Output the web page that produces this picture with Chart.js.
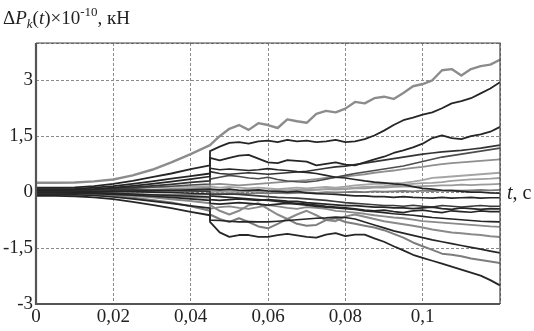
<!DOCTYPE html>
<html>
<head>
<meta charset="utf-8">
<script src="https://cdn.jsdelivr.net/npm/chart.js@4"></script>
<style>
  html, body { margin: 0; padding: 0; background: #fff; }
</style>
</head>
<body>
<canvas id="chart" width="534" height="331"></canvas>
<script>
// time axis: smooth part up to 0.045 s, then the jump (0.045 repeated) and the rest
var times = [0, 0.005, 0.01, 0.015, 0.02, 0.025, 0.03, 0.035, 0.04, 0.045,
  0.045, 0.0475, 0.05, 0.0525, 0.055, 0.0575, 0.06, 0.0625, 0.065, 0.0675,
  0.07, 0.0725, 0.075, 0.0775, 0.08, 0.0825, 0.085, 0.0875, 0.09, 0.0925,
  0.095, 0.0975, 0.1, 0.1025, 0.105, 0.1075, 0.11, 0.1125, 0.115, 0.1175, 0.12];

var xTickValues = [0, 0.02, 0.04, 0.06, 0.08, 0.1, 0.12];
var xTickLabels = ['0', '0,02', '0,04', '0,06', '0,08', '0,1', ''];
var yTickValues = [-3, -1.5, 0, 1.5, 3, 4];
var yTickLabels = ['-3', '-1,5', '0', '1,5', '3', ''];

// ΔPk(t) values, one array per curve (first 10 values before the jump)
var line01 = [0.25, 0.25, 0.26, 0.29, 0.34, 0.45, 0.6, 0.8, 1.02, 1.26,
  1.26, 1.5, 1.7, 1.8, 1.67, 1.85, 1.8, 1.72, 1.95, 1.9,
  1.86, 2.1, 2.18, 2.14, 2.24, 2.42, 2.38, 2.52, 2.56, 2.5,
  2.66, 2.84, 2.9, 3.0, 3.27, 3.3, 3.13, 3.3, 3.38, 3.42, 3.55];
var line02 = [0.12, 0.12, 0.13, 0.16, 0.22, 0.3, 0.4, 0.5, 0.62, 0.72,
  1.1, 1.22, 1.32, 1.34, 1.3, 1.36, 1.38, 1.34, 1.4, 1.36,
  1.38, 1.34, 1.36, 1.4, 1.34, 1.36, 1.42, 1.52, 1.65, 1.8,
  1.93, 2.0, 2.08, 2.14, 2.25, 2.38, 2.44, 2.52, 2.65, 2.78, 2.95];
var line03 = [0.08, 0.08, 0.09, 0.12, 0.16, 0.22, 0.29, 0.36, 0.43, 0.5,
  0.92, 0.85, 0.92, 0.98, 1.0, 0.9, 0.8, 0.78, 0.86, 0.84,
  0.82, 0.72, 0.76, 0.8, 0.74, 0.72, 0.8, 0.88, 0.95, 1.05,
  1.12, 1.2, 1.3, 1.45, 1.52, 1.45, 1.42, 1.5, 1.55, 1.62, 1.75];
var line04 = [0.05, 0.05, 0.06, 0.08, 0.12, 0.17, 0.22, 0.28, 0.35, 0.42,
  0.64, 0.6, 0.62, 0.6, 0.58, 0.6, 0.63, 0.6, 0.58, 0.55,
  0.53, 0.5, 0.45, 0.4, 0.38, 0.34, 0.3, 0.27, 0.25, 0.22,
  0.2, 0.15, 0.1, 0.08, 0.05, 0.04, 0.02, 0.0, 0.0, -0.02, -0.03];
var line05 = [0.04, 0.04, 0.05, 0.07, 0.1, 0.13, 0.17, 0.21, 0.26, 0.3,
  0.55, 0.5, 0.48, 0.5, 0.52, 0.5, 0.48, 0.5, 0.52, 0.54,
  0.56, 0.6, 0.64, 0.68, 0.7, 0.74, 0.78, 0.82, 0.86, 0.9,
  0.94, 0.98, 1.02, 1.05, 1.08, 1.1, 1.12, 1.15, 1.18, 1.22, 1.26];
var line06 = [0.02, 0.02, 0.03, 0.05, 0.07, 0.1, 0.13, 0.16, 0.19, 0.22,
  0.35, 0.4, 0.45, 0.42, 0.38, 0.36, 0.4, 0.34, 0.3, 0.28,
  0.27, 0.3, 0.35, 0.4, 0.45, 0.5, 0.54, 0.58, 0.62, 0.66,
  0.7, 0.76, 0.82, 0.88, 0.94, 0.98, 1.02, 1.06, 1.1, 1.14, 1.18];
var line07 = [0.0, 0.0, 0.01, 0.02, 0.04, 0.05, 0.07, 0.09, 0.1, 0.12,
  0.2, 0.22, 0.2, 0.18, 0.2, 0.22, 0.24, 0.26, 0.28, 0.3,
  0.32, 0.35, 0.38, 0.4, 0.42, 0.45, 0.48, 0.52, 0.55, 0.58,
  0.62, 0.65, 0.68, 0.72, 0.75, 0.78, 0.8, 0.82, 0.84, 0.86, 0.88];
var line08 = [0.06, 0.06, 0.07, 0.08, 0.1, 0.12, 0.13, 0.14, 0.15, 0.16,
  0.15, 0.12, 0.14, 0.12, 0.1, 0.12, 0.1, 0.08, 0.1, 0.12,
  0.1, 0.12, 0.14, 0.12, 0.15, 0.18, 0.2, 0.22, 0.22, 0.24,
  0.25, 0.28, 0.32, 0.38, 0.4, 0.42, 0.44, 0.46, 0.48, 0.5, 0.52];
var line09 = [-0.02, -0.02, -0.02, -0.01, 0.0, 0.01, 0.02, 0.03, 0.04, 0.05,
  0.05, 0.06, 0.05, 0.04, 0.06, 0.05, 0.04, 0.06, 0.05, 0.06,
  0.08, 0.07, 0.08, 0.1, 0.1, 0.12, 0.14, 0.15, 0.16, 0.18,
  0.2, 0.22, 0.24, 0.25, 0.27, 0.3, 0.32, 0.34, 0.35, 0.36, 0.38];
var line10 = [-0.1, -0.1, -0.11, -0.14, -0.19, -0.26, -0.34, -0.43, -0.53, -0.62,
  -0.8, -1.08, -1.2, -1.15, -1.15, -1.2, -1.2, -1.15, -1.12, -1.16,
  -1.2, -1.22, -1.14, -1.1, -1.18, -1.14, -1.14, -1.24, -1.33, -1.45,
  -1.56, -1.68, -1.76, -1.84, -1.92, -2.0, -2.08, -2.16, -2.24, -2.36, -2.5];
var line11 = [-0.06, -0.06, -0.07, -0.09, -0.13, -0.18, -0.24, -0.3, -0.37, -0.43,
  -0.75, -0.76, -0.78, -0.8, -0.79, -0.8, -0.8, -0.78, -0.76, -0.74,
  -0.72, -0.7, -0.69, -0.67, -0.68, -0.72, -0.8, -0.88, -0.96, -1.04,
  -1.1, -1.16, -1.22, -1.28, -1.33, -1.38, -1.43, -1.48, -1.53, -1.58, -1.63];
var line12 = [-0.05, -0.05, -0.06, -0.08, -0.11, -0.15, -0.21, -0.28, -0.38, -0.5,
  -0.6, -0.72, -0.8, -0.7, -0.8, -0.92, -0.97, -0.85, -0.72, -0.85,
  -0.9, -0.88, -0.75, -0.7, -0.8, -0.85, -0.9, -0.95, -1.02, -1.12,
  -1.22, -1.35, -1.45, -1.55, -1.65, -1.68, -1.72, -1.78, -1.82, -1.86, -1.9];
var line13 = [-0.03, -0.03, -0.04, -0.05, -0.07, -0.1, -0.14, -0.19, -0.24, -0.3,
  -0.35, -0.5, -0.6, -0.5, -0.35, -0.3, -0.45, -0.6, -0.72, -0.6,
  -0.5, -0.62, -0.75, -0.78, -0.65, -0.6, -0.66, -0.72, -0.78, -0.82,
  -0.86, -0.9, -0.95, -1.0, -1.04, -1.08, -1.1, -1.13, -1.15, -1.18, -1.2];
var line14 = [-0.01, -0.01, -0.01, -0.02, -0.04, -0.06, -0.08, -0.1, -0.13, -0.15,
  -0.45, -0.4, -0.38, -0.42, -0.45, -0.4, -0.35, -0.38, -0.42, -0.45,
  -0.4, -0.42, -0.45, -0.5, -0.52, -0.55, -0.58, -0.62, -0.65, -0.68,
  -0.7, -0.74, -0.78, -0.8, -0.82, -0.84, -0.86, -0.88, -0.9, -0.92, -0.93];
var line15 = [-0.02, -0.02, -0.03, -0.04, -0.06, -0.08, -0.11, -0.14, -0.18, -0.22,
  -0.3, -0.32, -0.3, -0.28, -0.3, -0.32, -0.35, -0.32, -0.3, -0.32,
  -0.35, -0.38, -0.4, -0.42, -0.44, -0.46, -0.5, -0.52, -0.55, -0.58,
  -0.6, -0.62, -0.65, -0.68, -0.7, -0.72, -0.74, -0.76, -0.78, -0.79, -0.8];
var line16 = [0.0, 0.0, -0.01, -0.02, -0.03, -0.05, -0.07, -0.09, -0.11, -0.13,
  -0.2, -0.22, -0.2, -0.18, -0.2, -0.22, -0.2, -0.22, -0.24, -0.25,
  -0.28, -0.3, -0.32, -0.34, -0.36, -0.36, -0.38, -0.4, -0.4, -0.42,
  -0.42, -0.44, -0.42, -0.4, -0.44, -0.46, -0.42, -0.44, -0.46, -0.44, -0.45];
var line17 = [0.03, 0.03, 0.03, 0.02, 0.02, 0.01, 0.0, -0.01, -0.03, -0.05,
  -0.1, -0.12, -0.14, -0.16, -0.18, -0.2, -0.22, -0.25, -0.28, -0.3,
  -0.32, -0.35, -0.38, -0.4, -0.42, -0.45, -0.48, -0.5, -0.48, -0.52,
  -0.55, -0.5, -0.48, -0.52, -0.55, -0.5, -0.52, -0.54, -0.5, -0.52, -0.52];
var line18 = [0.07, 0.07, 0.07, 0.07, 0.06, 0.06, 0.05, 0.04, 0.03, 0.02,
  -0.05, -0.06, -0.05, -0.06, -0.08, -0.1, -0.12, -0.14, -0.15, -0.16,
  -0.18, -0.2, -0.22, -0.25, -0.28, -0.3, -0.32, -0.34, -0.36, -0.36,
  -0.38, -0.35, -0.38, -0.4, -0.36, -0.38, -0.4, -0.38, -0.36, -0.38, -0.38];
var line19 = [0.1, 0.1, 0.1, 0.09, 0.08, 0.07, 0.06, 0.05, 0.03, 0.02,
  0.0, 0.02, 0.0, 0.02, 0.04, 0.02, 0.04, 0.05, 0.04, 0.06,
  0.05, 0.06, 0.08, 0.07, 0.08, 0.1, 0.1, 0.12, 0.12, 0.14,
  0.15, 0.15, 0.16, 0.17, 0.18, 0.18, 0.2, 0.19, 0.2, 0.21, 0.22];
var line20 = [-0.04, -0.04, -0.04, -0.05, -0.05, -0.06, -0.07, -0.07, -0.07, -0.06,
  -0.05, -0.04, -0.05, -0.03, -0.04, -0.02, -0.03, -0.02, -0.03, -0.02,
  -0.01, -0.02, 0.0, -0.01, 0.0, 0.01, 0.0, 0.02, 0.01, 0.02,
  0.03, 0.02, 0.04, 0.03, 0.04, 0.05, 0.04, 0.05, 0.06, 0.05, 0.06];
var line21 = [0.0, 0.0, 0.0, 0.01, 0.02, 0.03, 0.04, 0.05, 0.06, 0.08,
  0.08, 0.06, 0.08, 0.05, 0.04, 0.06, 0.03, 0.02, 0.0, 0.02,
  -0.02, -0.04, -0.05, -0.06, -0.08, -0.1, -0.1, -0.12, -0.12, -0.14,
  -0.12, -0.14, -0.15, -0.16, -0.14, -0.16, -0.15, -0.14, -0.16, -0.15, -0.15];

var DARK = '#262626';
var SERIF = '"Liberation Serif", "DejaVu Serif", serif';

// first entries are drawn on top
var curves = [
    [line02, DARK, 1.8], [line03, DARK, 1.8], [line04, DARK, 1.7], [line05, '#333333', 1.7],
    [line10, DARK, 1.8], [line11, DARK, 1.7], [line15, DARK, 1.7], [line16, DARK, 1.7],
    [line17, DARK, 1.7], [line21, DARK, 1.6], [line18, '#3a3a3a', 1.6], [line06, '#4d4d4d', 1.6],
    [line01, '#8c8c8c', 2.4], [line12, '#7d7d7d', 2.0], [line13, '#8a8a8a', 2.0], [line14, '#8a8a8a', 1.8],
    [line07, '#8f8f8f', 1.8], [line08, '#a5a5a5', 1.8], [line09, '#a0a0a0', 1.8], [line19, '#9a9a9a', 1.8],
    [line20, '#7a7a7a', 1.8]
];

var datasets = curves.map(function (c) {
    return {
        data: c[0].map(function (v, i) { return { x: times[i], y: v }; }),
        borderColor: c[1],
        borderWidth: c[2],
        pointRadius: 0,
        tension: 0,
        fill: false,
        borderJoinStyle: 'round'
    };
});

function putText(ctx, pos, txt, font, dy) {
    ctx.font = font;
    ctx.fillText(txt, pos.x, pos.y + dy);
    pos.x += ctx.measureText(txt).width;
}

var frameAndTitles = {
    id: 'frameAndTitles',
    afterDraw: function (chart) {
        var ctx = chart.ctx;
        var a = chart.chartArea;
        ctx.save();
        ctx.strokeStyle = '#444';
        ctx.lineWidth = 1.2;
        ctx.beginPath();
        ctx.moveTo(a.left, a.top); ctx.lineTo(a.right, a.top); ctx.lineTo(a.right, a.bottom);
        ctx.stroke();
        ctx.lineWidth = 2.2;
        ctx.strokeStyle = '#555';
        ctx.beginPath();
        ctx.moveTo(a.left, a.top); ctx.lineTo(a.left, a.bottom); ctx.lineTo(a.right, a.bottom);
        ctx.stroke();

        ctx.fillStyle = '#222';
        ctx.textBaseline = 'alphabetic';
        ctx.textAlign = 'left';
        var p = { x: 3, y: 24 };
        putText(ctx, p, 'Δ', '19px ' + SERIF, 0);
        putText(ctx, p, 'P', 'italic 19px ' + SERIF, 0);
        putText(ctx, p, 'k', 'italic 13px ' + SERIF, 4);
        putText(ctx, p, '(', '19px ' + SERIF, 0);
        putText(ctx, p, 't', 'italic 19px ' + SERIF, 0);
        putText(ctx, p, ')×10', '19px ' + SERIF, 0);
        putText(ctx, p, '-10', '13px ' + SERIF, -8);
        putText(ctx, p, ', кН', '19px ' + SERIF, 0);

        var q = { x: 507, y: 199 };
        putText(ctx, q, 't', 'italic 20px ' + SERIF, 0);
        putText(ctx, q, ', c', '20px ' + SERIF, 0);
        ctx.restore();
    }
};

var tickFont = { family: SERIF, size: 19 };

new Chart(document.getElementById('chart').getContext('2d'), {
    type: 'line',
    data: { datasets: datasets },
    options: {
        responsive: false,
        animation: false,
        layout: { padding: { top: 43, right: 34, left: 0, bottom: 0 } },
        plugins: { legend: { display: false }, tooltip: { enabled: false } },
        scales: {
            x: {
                type: 'linear',
                min: 0,
                max: 0.12,
                afterBuildTicks: function (scale) {
                    scale.ticks = xTickValues.map(function (v) { return { value: v }; });
                },
                afterFit: function (scale) { scale.height = 27; },
                ticks: {
                    autoSkip: false,
                    maxRotation: 0,
                    padding: 2,
                    color: '#222',
                    font: tickFont,
                    callback: function (v, i) { return xTickLabels[i]; }
                },
                grid: { color: '#8a8a8a', lineWidth: 1, drawTicks: false },
                border: { display: false, dash: [3, 2] }
            },
            y: {
                type: 'linear',
                min: -3,
                max: 4,
                afterBuildTicks: function (scale) {
                    scale.ticks = yTickValues.map(function (v) { return { value: v }; });
                },
                afterFit: function (scale) { scale.width = 36; },
                ticks: {
                    autoSkip: false,
                    padding: 3,
                    color: '#222',
                    font: tickFont,
                    callback: function (v, i) { return yTickLabels[i]; }
                },
                grid: { color: '#8a8a8a', lineWidth: 1, drawTicks: false },
                border: { display: false, dash: [3, 2] }
            }
        }
    },
    plugins: [frameAndTitles]
});
</script>
</body>
</html>
